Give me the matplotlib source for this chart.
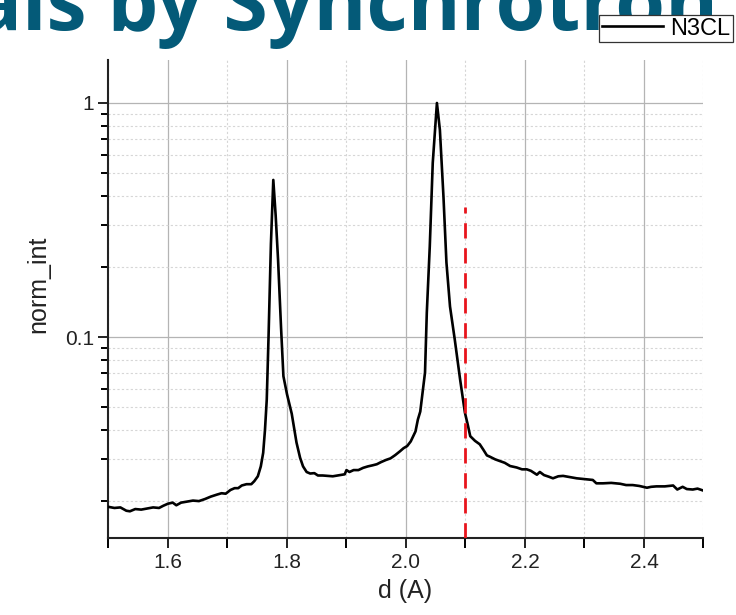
import matplotlib
matplotlib.use("Agg")
import matplotlib.pyplot as plt
from matplotlib.ticker import LogLocator, MultipleLocator, FixedLocator, NullFormatter

# values
d_vals = [1.500, 1.510, 1.520, 1.530, 1.536, 1.545, 1.555, 1.565, 1.575, 1.585,
          1.592, 1.600, 1.608, 1.614, 1.622, 1.632, 1.642, 1.652, 1.662, 1.672,
          1.682, 1.690, 1.697, 1.705, 1.712, 1.718, 1.724, 1.732, 1.740, 1.745,
          1.751, 1.756, 1.760, 1.763, 1.766, 1.769, 1.773, 1.777, 1.781, 1.785,
          1.790, 1.794, 1.800, 1.808, 1.816, 1.822, 1.827, 1.833, 1.839, 1.846,
          1.852, 1.860, 1.868, 1.877, 1.885, 1.892, 1.897, 1.900, 1.905, 1.912,
          1.920, 1.928, 1.936, 1.944, 1.951, 1.958, 1.966, 1.974, 1.982, 1.990,
          1.996, 2.002, 2.008, 2.012, 2.016, 2.020, 2.024, 2.028, 2.032, 2.035,
          2.040, 2.045, 2.052, 2.057, 2.063, 2.068, 2.074, 2.082, 2.091, 2.099,
          2.104, 2.108, 2.116, 2.124, 2.130, 2.136, 2.141, 2.150, 2.158, 2.166,
          2.175, 2.186, 2.195, 2.203, 2.210, 2.220, 2.225, 2.232, 2.240, 2.247,
          2.256, 2.264, 2.275, 2.287, 2.300, 2.314, 2.320, 2.331, 2.345, 2.360,
          2.370, 2.381, 2.392, 2.405, 2.412, 2.421, 2.435, 2.449, 2.456, 2.465,
          2.472, 2.482, 2.490, 2.499]
norm_int = [0.0188, 0.0186, 0.0187, 0.0181, 0.0180, 0.0184, 0.0183, 0.0185, 0.0187, 0.0186,
            0.0190, 0.0194, 0.0196, 0.0191, 0.0196, 0.0198, 0.0200, 0.0199, 0.0203, 0.0208,
            0.0212, 0.0215, 0.0214, 0.0222, 0.0226, 0.0226, 0.0232, 0.0235, 0.0235, 0.0242,
            0.0254, 0.0280, 0.0320, 0.0400, 0.0540, 0.1000, 0.2500, 0.4690, 0.3300, 0.2140,
            0.1100, 0.0680, 0.0570, 0.0470, 0.0354, 0.0305, 0.0280, 0.0265, 0.0261, 0.0262,
            0.0256, 0.0256, 0.0255, 0.0254, 0.0256, 0.0258, 0.0259, 0.0270, 0.0265, 0.0270,
            0.0270, 0.0276, 0.0280, 0.0283, 0.0286, 0.0292, 0.0298, 0.0303, 0.0313, 0.0325,
            0.0335, 0.0342, 0.0358, 0.0376, 0.0395, 0.0444, 0.0480, 0.0580, 0.0705, 0.1270,
            0.2440, 0.5550, 1.0000, 0.7670, 0.3980, 0.2080, 0.1350, 0.0975, 0.0658, 0.0476,
            0.0420, 0.0377, 0.0360, 0.0348, 0.0330, 0.0312, 0.0308, 0.0300, 0.0295, 0.0290,
            0.0281, 0.0277, 0.0272, 0.0272, 0.0268, 0.0258, 0.0265, 0.0257, 0.0253, 0.0249,
            0.0254, 0.0255, 0.0252, 0.0249, 0.0247, 0.0245, 0.0237, 0.0237, 0.0238, 0.0236,
            0.0233, 0.0233, 0.0231, 0.0227, 0.0229, 0.0230, 0.0230, 0.0232, 0.0223, 0.0229,
            0.0224, 0.0223, 0.0225, 0.0221]
marker_d = 2.1
marker_top = 0.36
series_name = "N3CL"
x_ticks = [1.6, 1.8, 2.0, 2.2, 2.4]
y_ticks = [0.1, 1]
y_tick_labels = ["0.1", "1"]

plt.rcParams["font.family"] = ["Liberation Sans", "DejaVu Sans"]

fig = plt.figure(figsize=(7.36, 6.15), dpi=100)
ax = fig.add_axes([0.1474, 0.1252, 0.8084, 0.7772])

ax.set_yscale("log")
ax.set_xlim(1.5, 2.5)
ax.set_ylim(0.01384, 1.526)

ax.plot(d_vals, norm_int, color="black", lw=1.9, label=series_name, zorder=3)
ax.plot([marker_d, marker_d], [0.01384, marker_top], color="#e8141c", lw=2.0,
        dashes=(5.5, 3.5), zorder=4)

# ticks
ax.xaxis.set_major_locator(FixedLocator(x_ticks))
ax.xaxis.set_minor_locator(MultipleLocator(0.1))
ax.set_xticklabels([f"{v:.1f}" for v in x_ticks])
ax.yaxis.set_major_locator(FixedLocator(y_ticks))
ax.set_yticklabels(y_tick_labels)
ax.yaxis.set_minor_locator(LogLocator(base=10, subs=range(2, 10)))
ax.yaxis.set_minor_formatter(NullFormatter())
ax.tick_params(axis="both", which="major", direction="out", length=7, width=1.4,
               labelsize=15, colors="#222222")
ax.tick_params(axis="y", which="minor", direction="out", length=5, width=1.4)
ax.tick_params(axis="x", which="minor", direction="out", length=7, width=1.4)

ax.grid(which="major", color="#b4b4b4", lw=0.9, ls="-")
ax.grid(which="minor", color="#d6d6d6", lw=0.8, ls=(0, (2, 2)))
ax.set_axisbelow(True)

for s in ("top", "right"):
    ax.spines[s].set_visible(False)
for s in ("left", "bottom"):
    ax.spines[s].set_linewidth(1.5)
    ax.spines[s].set_color("#222222")

ax.set_xlabel("d (A)", fontsize=18, color="#222222")
ax.xaxis.set_label_coords(0.498, -0.086)
ax.set_ylabel("norm_int", fontsize=18, color="#222222")
ax.yaxis.set_label_coords(-0.097, 0.53)

leg = fig.legend(loc="upper right", bbox_to_anchor=(0.996, 0.976), fontsize=17,
                 frameon=True, fancybox=False, edgecolor="#333333", framealpha=1,
                 handlelength=2.6, handletextpad=0.3, borderpad=0.12,
                 borderaxespad=0)
leg.get_frame().set_linewidth(0.9)

# slide title cut off at the top of the picture
fig.text(0.976, 1 - 30 / 615, "ials by Synchrotron", ha="right", va="baseline",
         fontsize=58, fontweight="bold", color="#045a78", family="Open Sans")

fig.savefig("out.png", dpi=100)
